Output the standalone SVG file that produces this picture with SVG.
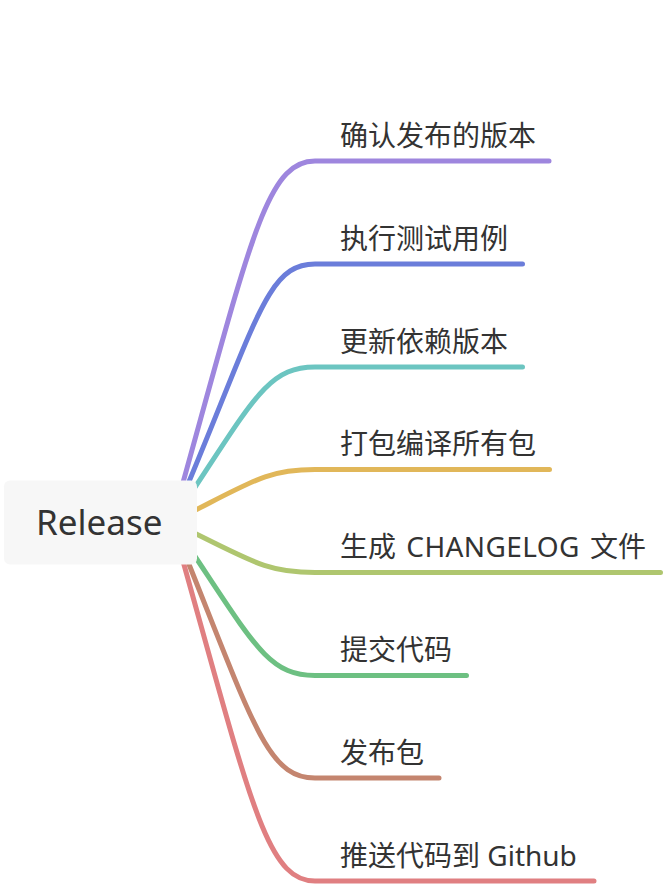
<svg xmlns="http://www.w3.org/2000/svg" width="666" height="887" viewBox="0 0 666 887">
<style>
.br{fill:none;stroke-width:5;stroke-linecap:round;stroke-linejoin:round}
.lbl{font-family:"Noto Sans","Noto Sans CJK SC",sans-serif;font-size:28px;fill:#333333}
.rt{font-family:"Noto Sans","Noto Sans CJK SC",sans-serif;font-size:35px;fill:#333333}
</style>
<rect width="666" height="887" fill="#ffffff"/>
<g id="connectors">
<path class="br" stroke="#9e86de" d="M172 522 C250 244 265 161 315 161 H549"/>
<path class="br" stroke="#6b7dda" d="M172 522 C257 323 265 264 315 264 H522.5"/>
<path class="br" stroke="#6cc5c1" d="M172 522 C252 403 265 367 315 367 H522.5"/>
<path class="br" stroke="#e1b759" d="M172 522 C252 482 265 469.5 315 469.5 H549.5"/>
<path class="br" stroke="#afc66f" d="M172 522 C252 561 265 572.5 315 572.5 H660.5"/>
<path class="br" stroke="#6dc082" d="M172 522 C252 640 265 675.5 315 675.5 H466.5"/>
<path class="br" stroke="#c4856f" d="M172 522 C252 719 265 778 315 778 H439"/>
<path class="br" stroke="#e07f81" d="M172 522 C250 798 265 881 315 881 H594"/>
</g>
<g id="root">
<rect x="4" y="480.5" width="193" height="84" rx="6" fill="#f7f7f7"/>
<text class="rt" x="36" y="535">Release</text>
</g>
<g id="n1"><text class="lbl" x="340" y="145.5">确认发布的版本</text></g>
<g id="n2"><text class="lbl" x="340" y="248.5">执行测试用例</text></g>
<g id="n3"><text class="lbl" x="340" y="351.5">更新依赖版本</text></g>
<g id="n4"><text class="lbl" x="340" y="454">打包编译所有包</text></g>
<g id="n5"><text class="lbl" x="340" y="557" word-spacing="3">生成 <tspan letter-spacing="0.4">CHANGELOG</tspan> 文件</text></g>
<g id="n6"><text class="lbl" x="340" y="660">提交代码</text></g>
<g id="n7"><text class="lbl" x="340" y="762.5">发布包</text></g>
<g id="n8"><text class="lbl" x="340" y="865.5">推送代码到 Github</text></g>
</svg>
